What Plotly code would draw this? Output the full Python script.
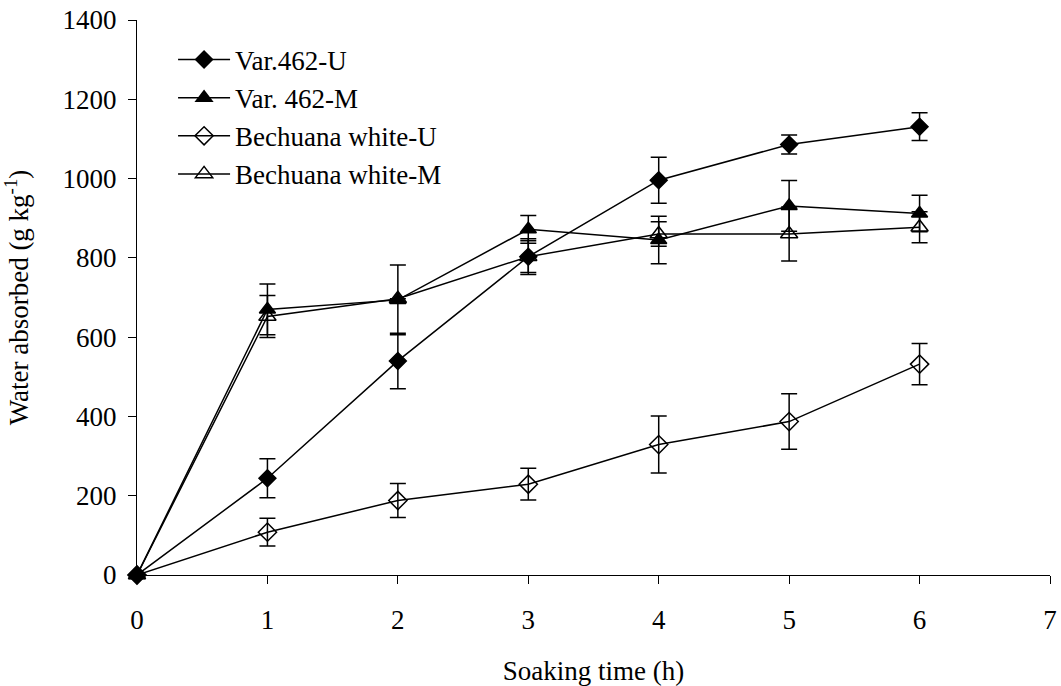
import plotly.graph_objects as go

hours = [0, 1, 2, 3, 4, 5, 6]

var462_u = [0, 244, 540, 803, 996, 1086, 1131]
var462_u_err = [0, 49, 70, 40, 58, 24, 35]

var462_m = [0, 670, 694, 872, 845, 931, 912]
var462_m_err = [0, 64, 88, 35, 60, 64, 46]

bw_u = [0, 108, 188, 229, 329, 387, 532]
bw_u_err = [0, 35, 43, 40, 72, 70, 52]

bw_m = [0, 652, 697, 803, 860, 860, 877]
bw_m_err = [0, 53, 0, 45, 31, 68, 39]

series = [
    ("Var.462-U", var462_u, var462_u_err, "diamond", 13),
    ("Var. 462-M", var462_m, var462_m_err, "triangle-up", 14),
    ("Bechuana white-U", bw_u, bw_u_err, "diamond-open", 14),
    ("Bechuana white-M", bw_m, bw_m_err, "triangle-up-open", 15),
]

font = "Liberation Serif"
fs = 27

fig = go.Figure()
for name, ys, errs, sym, sz in series:
    fig.add_trace(go.Scatter(
        x=hours, y=ys, name=name, mode="lines+markers",
        line=dict(color="black", width=1.5),
        marker=dict(symbol=sym, size=sz, color="black",
                    line=dict(color="black", width=1.5)),
        error_y=dict(type="data", array=errs, visible=True,
                     color="black", thickness=1.5, width=8),
        cliponaxis=False,
    ))

fig.update_layout(
    width=1061, height=686,
    margin=dict(l=137, r=11, t=20, b=111),
    paper_bgcolor="white", plot_bgcolor="white",
    font=dict(family=font, size=fs, color="black"),
    showlegend=True,
    legend=dict(x=0.0395, y=0.972, xanchor="left", yanchor="top",
                bgcolor="rgba(0,0,0,0)", font=dict(size=fs, family=font),
                tracegroupgap=0, itemwidth=52),
)
fig.update_xaxes(
    range=[0, 7], tickmode="linear", tick0=0, dtick=1, automargin=False,
    showline=True, linecolor="black", linewidth=1,
    ticks="outside", ticklen=8, tickcolor="black", tickwidth=1,
    showgrid=False, zeroline=False, ticklabelstandoff=13,
    ticklabeloverflow="allow",
    title=dict(text="Soaking time (h)", standoff=34, font=dict(size=fs)),
)
fig.update_yaxes(
    range=[0, 1400], tickmode="linear", tick0=0, dtick=200, automargin=False,
    showline=True, linecolor="black", linewidth=1,
    ticks="outside", ticklen=8, tickcolor="black", tickwidth=1,
    showgrid=False, zeroline=False, ticklabelstandoff=6,
    ticklabeloverflow="allow",
    title=dict(text="Water absorbed (g kg<sup>-1</sup>)", standoff=29, font=dict(size=fs)),
)

# remove the page's default 8px body margin so the figure fills the window
fig.write_html("out.html", config={"displayModeBar": False},
               post_script="document.body.style.margin='0px';")
